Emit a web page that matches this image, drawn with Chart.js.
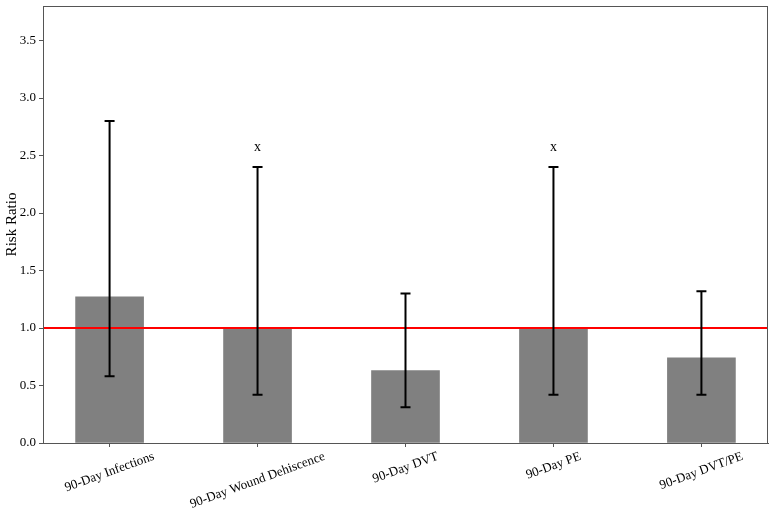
<!DOCTYPE html>
<html>
<head>
<meta charset="utf-8">
<script src="https://cdn.jsdelivr.net/npm/chart.js@4"></script>
<style>
  html, body { margin: 0; padding: 0; background: #fff; }
  #wrap { width: 773px; height: 510px; }
</style>
</head>
<body>
<div id="wrap"><canvas id="chart" width="773" height="510"></canvas></div>
<script>
const categories = ['90-Day Infections', '90-Day Wound Dehiscence', '90-Day DVT', '90-Day PE', '90-Day DVT/PE'];
const riskRatios = [1.27, 1.0, 0.63, 1.0, 0.74];
const ciLower = [0.58, 0.42, 0.31, 0.42, 0.42];
const ciUpper = [2.8, 2.4, 1.3, 2.4, 1.32];
const markers = ['', 'x', '', 'x', ''];
const yTicks = [0, 0.5, 1.0, 1.5, 2.0, 2.5, 3.0, 3.5];
const refLine = 1.0;

const serif = '"Liberation Serif", "Times New Roman", serif';
const axisColor = '#555';

const overlay = {
  id: 'overlay',
  afterDatasetsDraw(chart) {
    const { ctx, chartArea, scales: { x, y } } = chart;
    ctx.save();

    // reference line
    const yRef = y.getPixelForValue(refLine);
    ctx.strokeStyle = '#ff0000';
    ctx.lineWidth = 2;
    ctx.beginPath();
    ctx.moveTo(chartArea.left, yRef);
    ctx.lineTo(chartArea.right, yRef);
    ctx.stroke();

    // error bars
    ctx.strokeStyle = '#000';
    ctx.lineWidth = 2;
    categories.forEach((_, i) => {
      const px = x.getPixelForValue(i);
      const lo = y.getPixelForValue(ciLower[i]);
      const hi = y.getPixelForValue(ciUpper[i]);
      ctx.beginPath();
      ctx.moveTo(px, lo);
      ctx.lineTo(px, hi);
      ctx.moveTo(px - 5, lo);
      ctx.lineTo(px + 5, lo);
      ctx.moveTo(px - 5, hi);
      ctx.lineTo(px + 5, hi);
      ctx.stroke();
    });

    // significance markers
    ctx.fillStyle = '#000';
    ctx.font = '14px ' + serif;
    ctx.textAlign = 'center';
    ctx.textBaseline = 'middle';
    markers.forEach((m, i) => {
      if (!m) return;
      ctx.fillText(m, x.getPixelForValue(i), y.getPixelForValue(ciUpper[i] + 0.17));
    });

    // frame
    ctx.strokeStyle = axisColor;
    ctx.lineWidth = 1;
    ctx.strokeRect(chartArea.left + 0.5, chartArea.top + 0.5,
      chartArea.right - chartArea.left - 1, chartArea.bottom - chartArea.top);

    // rotated category labels, centred under each tick
    ctx.font = '13px ' + serif;
    ctx.fillStyle = '#000';
    categories.forEach((label, i) => {
      const px = x.getPixelForValue(i);
      const w = ctx.measureText(label).width;
      const halfH = (w / 2) * Math.sin(20 * Math.PI / 180) + 6;
      ctx.save();
      ctx.translate(px, chartArea.bottom + 7 + halfH);
      ctx.rotate(-20 * Math.PI / 180);
      ctx.textAlign = 'center';
      ctx.textBaseline = 'middle';
      ctx.fillText(label, 0, 0);
      ctx.restore();
    });

    ctx.restore();
  }
};

new Chart(document.getElementById('chart'), {
  type: 'bar',
  data: {
    datasets: [{
      data: riskRatios.map((v, i) => ({ x: i, y: v })),
      backgroundColor: '#808080',
      borderWidth: 0,
      barThickness: 68,
    }],
  },
  options: {
    responsive: false,
    animation: false,
    layout: { padding: { top: 6, right: 5, left: 3, bottom: 0 } },
    plugins: { legend: { display: false }, tooltip: { enabled: false } },
    scales: {
      x: {
        type: 'linear',
        offset: false,
        min: -0.45,
        max: 4.45,
        afterBuildTicks: (scale) => { scale.ticks = categories.map((_, i) => ({ value: i })); },
        afterFit: (scale) => { scale.height = 67; scale.paddingLeft = 0; scale.paddingRight = 0; },
        ticks: { display: false },
        grid: { offset: false, drawOnChartArea: false, drawTicks: true, tickLength: 4, color: axisColor },
        border: { display: true, color: axisColor },
      },
      y: {
        min: 0,
        max: 3.8,
        afterBuildTicks: (scale) => { scale.ticks = yTicks.map((v) => ({ value: v })); },
        afterFit: (scale) => { scale.width = 40; scale.paddingTop = 0; scale.paddingBottom = 0; },
        ticks: {
          color: '#000',
          font: { family: serif, size: 13 },
          padding: 3,
          callback: (v) => Number(v).toFixed(1),
        },
        title: { display: true, text: 'Risk Ratio', color: '#000', font: { family: serif, size: 15 }, padding: 0 },
        grid: { drawOnChartArea: false, drawTicks: true, tickLength: 4, color: axisColor },
        border: { display: true, color: axisColor },
      },
    },
  },
  plugins: [overlay],
});
</script>
</body>
</html>
